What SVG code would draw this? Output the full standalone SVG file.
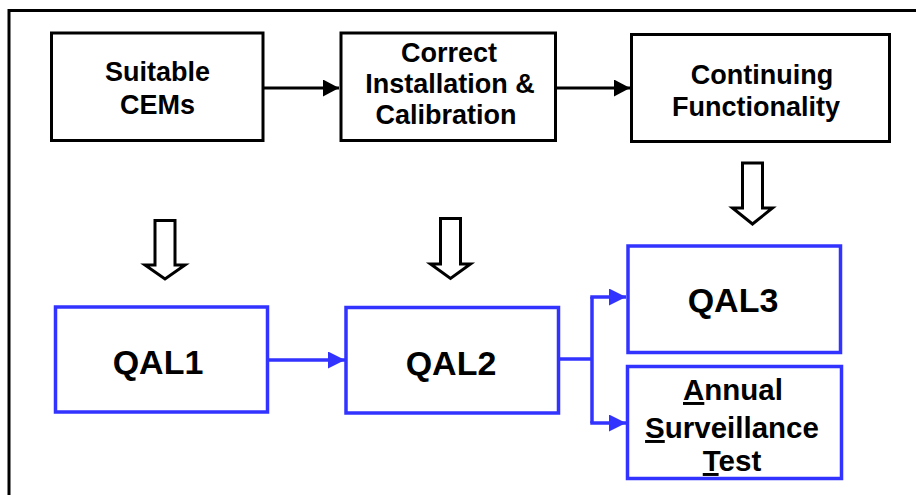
<svg xmlns="http://www.w3.org/2000/svg" width="916" height="495" viewBox="0 0 916 495">
<defs>
<style>
.bk{fill:#fff;stroke:#000;stroke-width:3}
.bl{fill:#fff;stroke:#3333ff;stroke-width:3.5}
.t{font-family:"Liberation Sans",Arial,sans-serif;font-weight:bold;fill:#000;text-anchor:middle}
.s{font-size:27px}
.q{font-size:34px}
.a{font-size:29.5px}
.ck{fill:none;stroke:#000;stroke-width:3}
.cb{fill:none;stroke:#3333ff;stroke-width:3.5}
.ho{fill:#fff;stroke:#000;stroke-width:3;stroke-linejoin:miter}
</style>
<marker id="ak" viewBox="0 0 16 17" refX="16" refY="8.5" markerWidth="16" markerHeight="17" markerUnits="userSpaceOnUse" orient="auto"><path d="M0,0 L16,8.5 L0,17 Z" fill="#000"/></marker>
<marker id="ab" viewBox="0 0 17 17" refX="17" refY="8.5" markerWidth="17" markerHeight="17" markerUnits="userSpaceOnUse" orient="auto"><path d="M0,0 L17,8.5 L0,17 Z" fill="#3333ff"/></marker>
</defs>
<rect width="916" height="495" fill="#fff"/>
<rect x="9" y="10.5" width="930" height="500" fill="none" stroke="#000" stroke-width="3"/>
<g id="connectors">
<path class="ck" d="M263,88 H339" marker-end="url(#ak)"/>
<path class="ck" d="M556,88 H630" marker-end="url(#ak)"/>
<path class="cb" d="M268,360 H345" marker-end="url(#ab)"/>
<path class="cb" d="M559,359 H592 M592,297 V423"/>
<path class="cb" d="M590.25,297 H626" marker-end="url(#ab)"/>
<path class="cb" d="M590.25,423 H626" marker-end="url(#ab)"/>
<path class="ho" d="M155,220.5 H175 V265 H185 L165,279 L145,265 H155 Z"/>
<path class="ho" d="M440.5,218.5 H460.5 V264 H470.5 L450.5,278.5 L430.5,264 H440.5 Z"/>
<path class="ho" d="M742.5,163 H762.5 V208 H772.5 L752.5,224 L732.5,208 H742.5 Z"/>
</g>
<g id="suitable">
<rect class="bk" x="51.5" y="33" width="211.5" height="107.5"/>
<text class="t s" x="157.5" y="81">Suitable</text>
<text class="t s" x="157.5" y="114">CEMs</text>
</g>
<g id="correct">
<rect class="bk" x="341" y="33" width="214.5" height="107.5"/>
<text class="t s" x="449" y="62">Correct</text>
<text class="t s" x="450" y="93">Installation &amp;</text>
<text class="t s" x="446" y="124">Calibration</text>
</g>
<g id="continuing">
<rect class="bk" x="631.5" y="34.5" width="258" height="107"/>
<text class="t s" x="762" y="84">Continuing</text>
<text class="t s" x="756" y="116">Functionality</text>
</g>
<g id="qal1">
<rect class="bl" x="55.5" y="307" width="212" height="105"/>
<text class="t q" x="158" y="374">QAL1</text>
</g>
<g id="qal2">
<rect class="bl" x="346" y="307.5" width="212.5" height="105.5"/>
<text class="t q" x="451" y="375">QAL2</text>
</g>
<g id="qal3">
<rect class="bl" x="628" y="246" width="212.5" height="106.5"/>
<text class="t q" x="733" y="312">QAL3</text>
</g>
<g id="ast">
<rect class="bl" x="627.5" y="366.5" width="214" height="112"/>
<text class="t a" x="733" y="400"><tspan text-decoration="underline">A</tspan>nnual</text>
<text class="t a" x="732" y="438"><tspan text-decoration="underline">S</tspan>urveillance</text>
<text class="t a" x="732" y="471"><tspan text-decoration="underline">T</tspan>est</text>
</g>
</svg>
